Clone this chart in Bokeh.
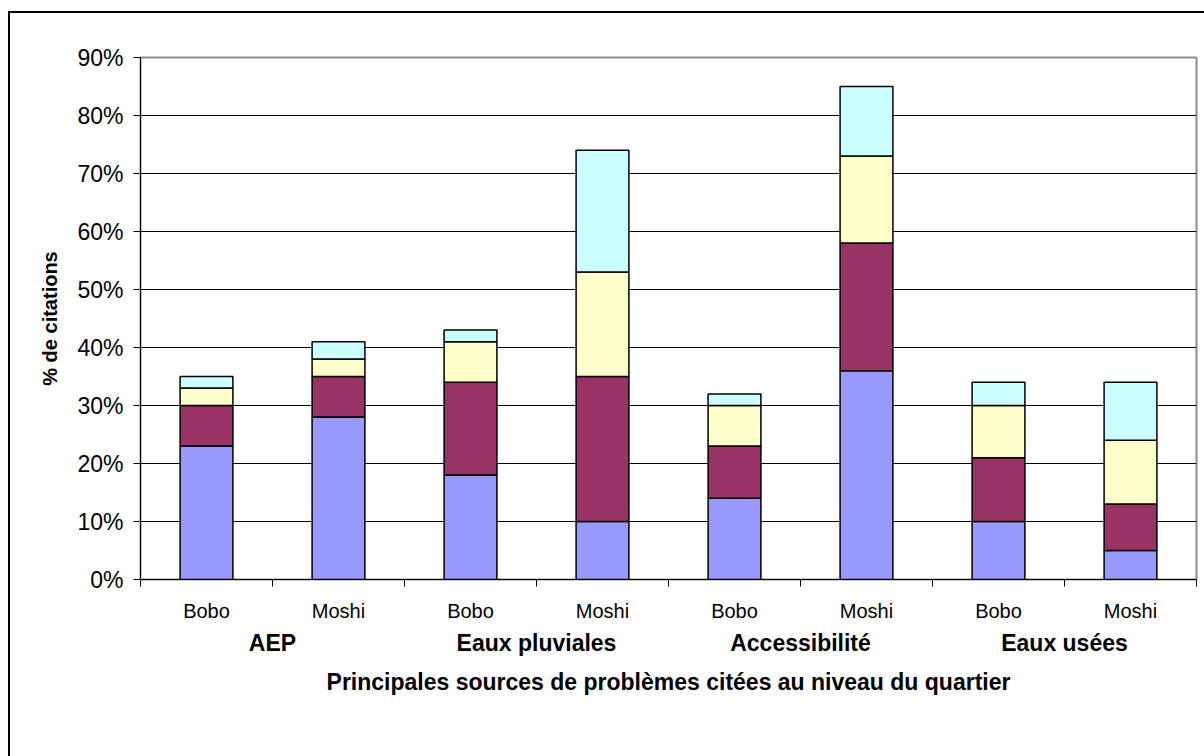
from bokeh.plotting import figure
from bokeh.models import (Range1d, FixedTicker, PrintfTickFormatter, Legend,
                          LegendItem, ColumnDataSource)
from bokeh.core.properties import value
from bokeh.embed import file_html
from bokeh.resources import INLINE

# --- data -------------------------------------------------------------
sources = ["AEP", "Eaux pluviales", "Accessibilité", "Eaux usées"]
sites = ["Bobo", "Moshi"]
problems = ["Problème n°1", "Problème n°2", "Problème n°3", "Problème n°4"]

# % de citations, one value per bar (Bobo, Moshi for each source)
probleme_1 = [23, 28, 18, 10, 14, 36, 10, 5]
probleme_2 = [7, 7, 16, 25, 9, 22, 11, 8]
probleme_3 = [3, 3, 7, 18, 7, 15, 9, 11]
probleme_4 = [2, 3, 2, 21, 2, 12, 4, 10]

y_ticks = [0, 10, 20, 30, 40, 50, 60, 70, 80, 90]

x_title = "Principales sources de problèmes citées au niveau du quartier"
y_title = "% de citations"

colors = ["#9999FF", "#993366", "#FFFFCC", "#CCFFFF"]
FONT = "Liberation Sans"

# --- layout helpers ---------------------------------------------------
n_sites = len(sites)
n = len(sources) * n_sites
bar_x = [i + 0.5 for i in range(n)]                      # one slot per bar
bar_site = [sites[i % n_sites] for i in range(n)]
group_x = [g * n_sites + n_sites / 2 for g in range(len(sources))]

src = ColumnDataSource(data={
    "x": bar_x,
    problems[0]: probleme_1,
    problems[1]: probleme_2,
    problems[2]: probleme_3,
    problems[3]: probleme_4,
})

# fixed plot-area size; the panels around it take their natural size
p = figure(
    x_range=Range1d(0, n),
    y_range=Range1d(0, 90),
    frame_width=1056, frame_height=522,
    output_backend="svg", toolbar_location=None,
    min_border_left=130, min_border_right=8,
    min_border_top=44, min_border_bottom=177,
)
p.margin = (11, 0, 0, 8)
p.styles = {"border-left": "2px solid black", "border-top": "2px solid black"}
p.background_fill_color = "white"
p.border_fill_color = "white"
p.outline_line_color = "#8c8c8c"
p.outline_line_width = 2

# horizontal grid only
p.xgrid.visible = False
p.ygrid.grid_line_color = "black"
p.ygrid.grid_line_width = 1
p.ygrid.ticker = FixedTicker(ticks=y_ticks)

# y axis
yax = p.yaxis[0]
yax.ticker = FixedTicker(ticks=y_ticks)
yax.formatter = PrintfTickFormatter(format="%d%%")
yax.axis_line_color = "black"
yax.major_tick_line_color = "black"
yax.major_tick_out = 7
yax.major_tick_in = 0
yax.minor_tick_line_color = None
yax.major_label_standoff = 10
yax.major_label_text_font = FONT
yax.major_label_text_font_size = "23px"
yax.major_label_text_color = "black"
yax.axis_label = y_title
yax.axis_label_text_font = FONT
yax.axis_label_text_font_size = "20px"
yax.axis_label_text_font_style = "bold"
yax.axis_label_text_color = "black"
yax.axis_label_standoff = 13

# x axis: tick marks on the boundaries between bars; the site and source
# names are drawn separately, the axis carries the title
xax = p.xaxis[0]
xax.ticker = FixedTicker(ticks=list(range(n + 1)))
xax.major_label_overrides = {i: "" for i in range(n + 1)}
xax.major_label_text_font_size = "1px"
xax.axis_line_color = "black"
xax.major_tick_line_color = "black"
xax.major_tick_out = 7
xax.major_tick_in = 0
xax.minor_tick_line_color = None
xax.axis_label = x_title
xax.axis_label_text_font = FONT
xax.axis_label_text_font_size = "23px"
xax.axis_label_text_font_style = "bold"
xax.axis_label_text_color = "black"
xax.axis_label_standoff = 82

# stacked bars
bars = p.vbar_stack(problems, x="x", width=0.4, source=src,
                    fill_color=colors, line_color="black", line_width=1.5)

# site and source labels under the axis
p.text(x=bar_x, y=[0] * n, text=bar_site,
       y_offset=31, text_align="center", text_baseline="middle",
       text_font=value(FONT), text_font_size="20px", text_color="black",
       level="overlay")
p.text(x=group_x, y=[0] * len(sources), text=sources,
       y_offset=63, text_align="center", text_baseline="middle",
       text_font=value(FONT), text_font_size="23px", text_font_style="bold",
       text_color="black", level="overlay")

# legend under the axis title
legend = Legend(
    items=[LegendItem(label=problems[i], renderers=[bars[i]]) for i in range(4)],
    orientation="horizontal",
    location="center",
    border_line_color="black", border_line_width=1.5,
    background_fill_color="white", background_fill_alpha=1,
    label_text_font=FONT, label_text_font_size="23px",
    glyph_width=13, glyph_height=13,
    label_standoff=8, spacing=13, padding=3, margin=0,
)
p.add_layout(legend, "below")

open("out.html", "w").write(file_html(p, INLINE))
